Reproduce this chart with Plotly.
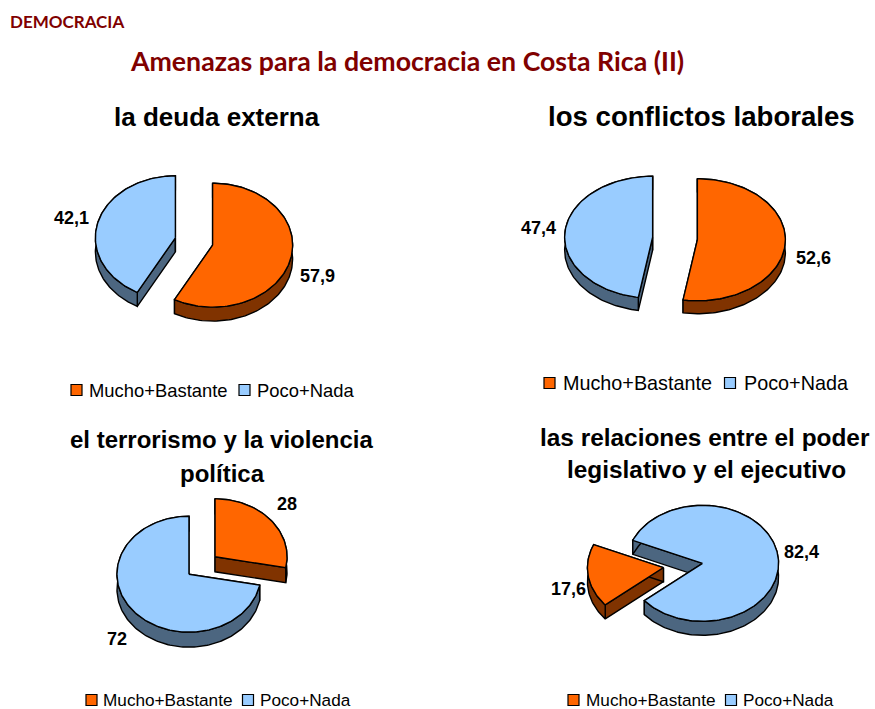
"""Four exploded 3D-look pies: democracy threats in Costa Rica."""

import numpy as np
import plotly.graph_objects as go

SERIES = ["Mucho+Bastante", "Poco+Nada"]
VALUES_DEUDA = [57.9, 42.1]
VALUES_CONFLICTOS = [52.6, 47.4]
VALUES_TERRORISMO = [28, 72]
VALUES_RELACIONES = [17.6, 82.4]
LABELS_DEUDA = ["57,9", "42,1"]
LABELS_CONFLICTOS = ["52,6", "47,4"]
LABELS_TERRORISMO = ["28", "72"]
LABELS_RELACIONES = ["17,6", "82,4"]

WIDTH, HEIGHT = 875, 709
TOP_COLORS = ["#FF6600", "#99CCFF"]
SIDE_COLORS = ["#803300", "#4C6680"]
FONT = "Liberation Sans"

# one entry per pie, everything in page pixels
PIES = [
    dict(values=VALUES_DEUDA, labels=LABELS_DEUDA, first=0,
         cx=194, cy=241.5, rx=80, ry=62, depth=14, pull=0.24,
         label_pos=[(317.5, 276), (71, 218)],
         title=[("la deuda externa", 217, 117, 26)],
         legend=dict(y=390, size=18.4, sq=[76.5, 244.5], tx=[87, 255])),
    dict(values=VALUES_CONFLICTOS, labels=LABELS_CONFLICTOS, first=0,
         cx=675, cy=238.5, rx=88, ry=61, depth=13, pull=0.255,
         label_pos=[(813.5, 258), (538, 228)],
         title=[("los conflictos laborales", 701, 116, 27.6)],
         legend=dict(y=383, size=19.8, sq=[549.5, 730], tx=[561, 742])),
    dict(values=VALUES_TERRORISMO, labels=LABELS_TERRORISMO, first=0,
         cx=202, cy=565.5, rx=72, ry=58, depth=15, pull=0.235,
         label_pos=[(287, 504), (117, 639)],
         title=[("el terrorismo y la violencia", 221, 439, 24),
                ("política", 222.5, 473, 24)],
         legend=dict(y=700, size=17.2, sq=[91.5, 248], tx=[101, 258])),
    dict(values=VALUES_RELACIONES, labels=LABELS_RELACIONES, first=230,
         cx=683, cy=565.5, rx=76, ry=58, depth=14, pull=0.26,
         label_pos=[(568, 589), (801, 552)],
         title=[("las relaciones entre el poder", 705, 437, 24.4),
                ("legislativo y el ejecutivo", 706, 469, 24.4)],
         legend=dict(y=700, size=17.2, sq=[573.5, 731], tx=[584, 741])),
]


def arc(start, end, cx, cy, rx, ry):
    theta = np.radians(np.arange(start, end, 1.5).tolist() + [end])
    return cx + rx * np.sin(theta), cy - ry * np.cos(theta)


def polygon(fig, xs, ys, color):
    fig.add_trace(go.Scatter(
        x=list(xs), y=list(ys), mode="lines", fill="toself", fillcolor=color,
        line=dict(color="#000000", width=1.4), hoverinfo="skip", showlegend=False,
    ))


def draw_slice(fig, pie, start, end, top, side):
    mid = np.radians((start + end) / 2)
    ax = pie["cx"] + np.sin(mid) * pie["pull"] * pie["rx"]
    ay = pie["cy"] - np.cos(mid) * pie["pull"] * pie["ry"]
    d = pie["depth"]
    ex, ey = arc(start, end, ax, ay, pie["rx"], pie["ry"])

    # walls first, the top face hides whichever ones face away
    for i in (0, -1):
        polygon(fig, [ax, ex[i], ex[i], ax, ax], [ay, ey[i], ey[i] + d, ay + d, ay], side)
    polygon(fig,
            np.concatenate([ex, ex[::-1], ex[:1]]),
            np.concatenate([ey, ey[::-1] + d, ey[:1]]),
            side)
    polygon(fig,
            np.concatenate([[ax], ex, [ax]]),
            np.concatenate([[ay], ey, [ay]]),
            top)


fig = go.Figure()
annotations = []


def add_text(text, x, y, size, color="#000000", bold=True, family=FONT, anchor="center"):
    annotations.append(dict(
        x=x, y=y, xref="x", yref="y", text=f"<b>{text}</b>" if bold else text,
        showarrow=False, xanchor=anchor, yanchor="middle",
        font=dict(family=family, size=size, color=color),
    ))


for pie in PIES:
    start = pie["first"]
    for value, top, side in zip(pie["values"], TOP_COLORS, SIDE_COLORS):
        end = start + value * 3.6
        draw_slice(fig, pie, start, end, top, side)
        start = end

    for label, (x, y) in zip(pie["labels"], pie["label_pos"]):
        add_text(label, x, y, 18)
    for text, x, y, size in pie["title"]:
        add_text(text, x, y, size)

    leg = pie["legend"]
    fig.add_trace(go.Scatter(
        x=leg["sq"], y=[leg["y"], leg["y"]], mode="markers",
        marker=dict(symbol="square", size=11, color=TOP_COLORS,
                    line=dict(color="#000000", width=1.2)),
        hoverinfo="skip", showlegend=False,
    ))
    for name, x in zip(SERIES, leg["tx"]):
        add_text(name, x, leg["y"], leg["size"], bold=False, anchor="left")

add_text("DEMOCRACIA", 8, 21, 17, color="#800000", family="Lato", anchor="left")
add_text("Amenazas para la democracia en Costa Rica (II)", 128, 61, 26.7,
         color="#800000", family="Lato", anchor="left")

fig.update_layout(
    width=WIDTH, height=HEIGHT,
    margin=dict(l=0, r=0, t=0, b=0),
    paper_bgcolor="#FFFFFF", plot_bgcolor="#FFFFFF",
    xaxis=dict(range=[0, WIDTH], visible=False),
    yaxis=dict(range=[HEIGHT, 0], visible=False),
    annotations=annotations,
    showlegend=False,
)

# the page's default body margin would push the figure 8px off
fig.write_html(
    "out.html",
    config=dict(displayModeBar=False),
    post_script="document.body.style.margin = '0';",
)
